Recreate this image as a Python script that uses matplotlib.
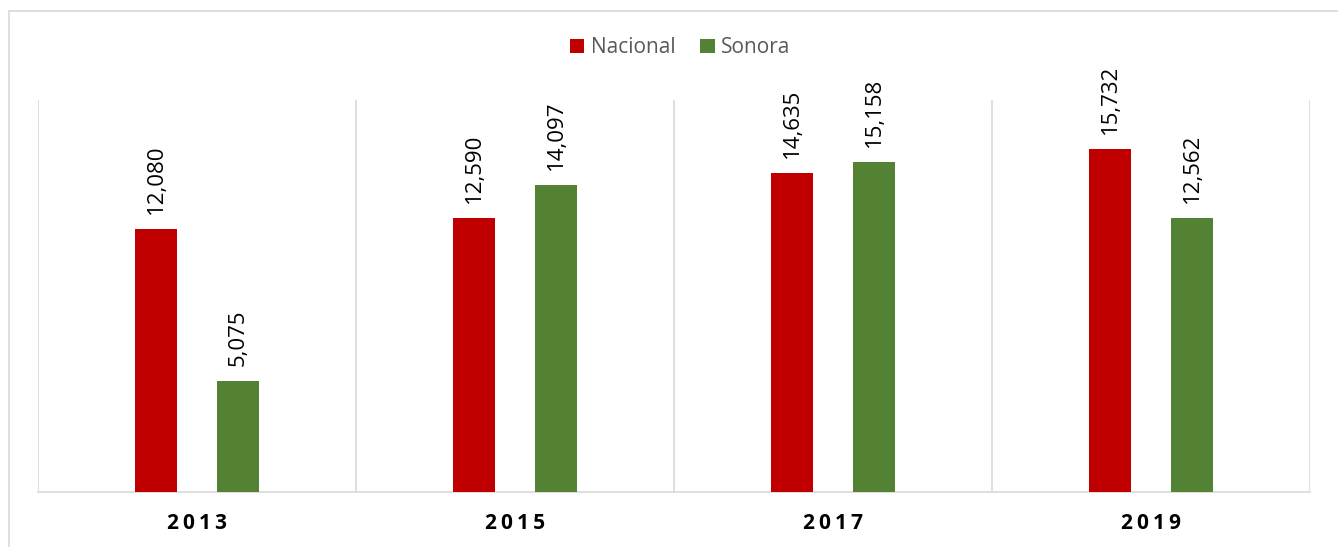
import matplotlib.pyplot as plt
import numpy as np
from matplotlib.patches import Rectangle

years = ['2013', '2015', '2017', '2019']
nacional = [12080, 12590, 14635, 15732]
sonora = [5075, 14097, 15158, 12562]

RED = '#C00000'
GREEN = '#548235'
GRID = '#D9D9D9'

plt.rcParams['font.family'] = ['Open Sans', 'DejaVu Sans']

fig = plt.figure(figsize=(13.38, 5.47), dpi=100)
ax = fig.add_axes([38 / 1338, 55 / 547, 1272 / 1338, 392 / 547])

# outer chart border
fig.patches.append(Rectangle((9 / 1338, -0.02), 1.0, 1 - 11 / 547 + 0.02,
                             transform=fig.transFigure, fill=False,
                             edgecolor=GRID, linewidth=1.2))

x = np.arange(len(years))
w = 0.135
off = 0.129
b1 = ax.bar(x - off, nacional, w, color=RED, label='Nacional', zorder=3)
b2 = ax.bar(x + off, sonora, w, color=GREEN, label='Sonora', zorder=3)

for bars, vals in [(b1, nacional), (b2, sonora)]:
    for r, v in zip(bars, vals):
        ax.annotate(f'{v:,}', xy=(r.get_x() + r.get_width() / 2, r.get_height()),
                    xytext=(0, 11), textcoords='offset points', rotation=90,
                    ha='center', va='bottom', fontsize=16, color='black')

ax.set_xlim(-0.5, len(years) - 0.5)
ax.set_ylim(0, 18000)
for b in np.arange(-0.5, len(years), 1):
    ax.axvline(b, color=GRID, linewidth=1.2, zorder=1)

for s in ['top', 'right', 'left']:
    ax.spines[s].set_visible(False)
ax.spines['bottom'].set_color(GRID)
ax.spines['bottom'].set_linewidth(1.2)
ax.set_yticks([])
ax.set_xticks(x)
ax.set_xticklabels(['\u2009'.join(y) for y in years], fontsize=15,
                   fontweight='bold', color='black')
ax.tick_params(axis='x', length=0, pad=15)

ax.legend(loc='center', bbox_to_anchor=(680 / 1338, 1 - 48 / 547),
          bbox_transform=fig.transFigure, ncol=2, frameon=False,
          fontsize=15, labelcolor='#595959', handlelength=0.7,
          handleheight=0.7, handletextpad=0.3, columnspacing=1.2)

fig.savefig('out.png', dpi=100)
